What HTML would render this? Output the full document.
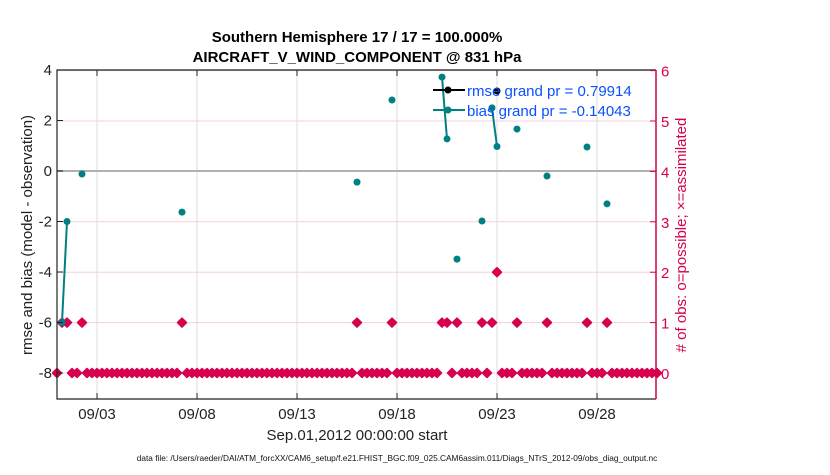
<!DOCTYPE html>
<html><head><meta charset="utf-8"><style>
body{margin:0;background:#fff;width:830px;height:470px;overflow:hidden}
svg{font-family:"Liberation Sans",sans-serif}
</style></head><body>
<svg id="chart" width="830" height="470" viewBox="0 0 830 470" xmlns="http://www.w3.org/2000/svg">
<g id="grid"></g>
<g id="marks"></g>
<g id="axes"></g>
<text x="357" y="42" text-anchor="middle" font-size="15" font-weight="bold">Southern Hemisphere 17 / 17 = 100.000%</text>
<text x="357" y="62" text-anchor="middle" font-size="15" font-weight="bold">AIRCRAFT_V_WIND_COMPONENT @ 831 hPa</text>
<text x="357" y="440" text-anchor="middle" font-size="15" fill="#222">Sep.01,2012 00:00:00 start</text>
<text x="397" y="461" text-anchor="middle" font-size="8.3" fill="#111">data file: /Users/raeder/DAI/ATM_forcXX/CAM6_setup/f.e21.FHIST_BGC.f09_025.CAM6assim.011/Diags_NTrS_2012-09/obs_diag_output.nc</text>
<text transform="translate(32,235) rotate(-90)" text-anchor="middle" font-size="15" fill="#222">rmse and bias (model - observation)</text>
<text transform="translate(686,235) rotate(-90)" text-anchor="middle" font-size="15" fill="#d6004f"># of obs: o=possible; ×=assimilated</text>
<g>
<line x1="433" y1="90" x2="465" y2="90" stroke="#000" stroke-width="2"/><circle cx="448" cy="90" r="3.5" fill="#000"/>
<line x1="433" y1="110" x2="465" y2="110" stroke="#008080" stroke-width="2"/><circle cx="448" cy="110" r="3.5" fill="#008080"/>
<text x="467" y="96" font-size="15" fill="#0b50ff">rmse grand pr = 0.79914</text>
<text x="467" y="116" font-size="15" fill="#0b50ff">bias grand pr = -0.14043</text>
</g>
</svg>
<script>
// data
const nBins = 121;
const countOne = [1,2,5,25,60,67,77,78,80,85,87,92,98,106,110];
const countTwo = [88];
const biasBins = [1,2,5,25,60,67,77,78,80,85,87,88,92,98,106,110];
const biasVals = [-6.0,-2.0,-0.12,-1.63,-0.44,2.81,3.72,1.27,-3.49,-1.98,2.5,0.97,1.66,-0.2,0.95,-1.3];
const rmseBins = [88];
const rmseVals = [3.17];
const xTickDays = [2,7,12,17,22,27];
const xTickLabels = ["09/03","09/08","09/13","09/18","09/23","09/28"];
const yLeftTicks = [-8,-6,-4,-2,0,2,4];
const yRightTicks = [0,1,2,3,4,5,6];

const L=57,R=656,T=70,B=399;
const xDay=d=>L+d*20;
const xBin=k=>xDay(k*0.25);
const yL=v=>171-v*25.25;
const yR=c=>373-c*50.4;
const NS="http://www.w3.org/2000/svg";
function mk(parent,tag,attrs){const e=document.createElementNS(NS,tag);for(const a in attrs)e.setAttribute(a,attrs[a]);document.getElementById(parent).appendChild(e);return e;}

// grid
xTickDays.forEach((d,i)=>{
  const g=mk('grid','line',{x1:xDay(d),x2:xDay(d),y1:T,y2:B,stroke:'#dcdcdc','stroke-width':1});
  
  
});
yRightTicks.forEach(c=>{
  if(c===4)return;
  const g=mk('grid','line',{x1:L,x2:R,y1:yR(c),y2:yR(c),stroke:'#f3d0dc','stroke-width':1});
  
  
});
const zl=mk('grid','line',{x1:L,x2:R,y1:yL(0),y2:yL(0),stroke:'#b0b0b0','stroke-width':2});



// counts
const counts=new Array(nBins).fill(0);
countOne.forEach(k=>counts[k]=1);
countTwo.forEach(k=>counts[k]=2);
for(let k=0;k<nBins-1;k++){
  if(counts[k]===counts[k+1]){
    const s=mk('marks','line',{x1:xBin(k),y1:yR(counts[k]),x2:xBin(k+1),y2:yR(counts[k+1]),stroke:'#d6004f','stroke-width':1.5});
    
    
  }
}
for(let k=0;k<nBins;k++){
  const x=xBin(k),y=yR(counts[k]);
  const m=mk('marks','path',{d:`M${x},${y-4.2}L${x+4.2},${y}L${x},${y+4.2}L${x-4.2},${y}Z`,fill:'#d6004f',stroke:'#d6004f','stroke-width':2,'stroke-linejoin':'round'});
  
  
}

// bias series
for(let i=0;i<biasBins.length-1;i++){
  if(biasBins[i+1]-biasBins[i]===1){
    const ln=mk('marks','line',{x1:xBin(biasBins[i]),y1:yL(biasVals[i]),x2:xBin(biasBins[i+1]),y2:yL(biasVals[i+1]),stroke:'#008080','stroke-width':2});
    
    
  }
}
biasBins.forEach((k,i)=>{
  const c=mk('marks','circle',{cx:xBin(k),cy:yL(biasVals[i]),r:3.5,fill:'#008080'});
  
  
});
rmseBins.forEach((k,i)=>{
  const c=mk('marks','circle',{cx:xBin(k),cy:yL(rmseVals[i]),r:3.5,fill:'#000'});
  
  
});

// axes
const la=mk('axes','path',{d:`M${R},${T}L${L},${T}L${L},${B}L${R},${B}`,fill:'none',stroke:'#222','stroke-width':1.2});


const ra=mk('axes','line',{x1:R,x2:R,y1:T,y2:B,stroke:'#d6004f','stroke-width':1.5});


xTickDays.forEach((d,i)=>{
  mk('axes','line',{x1:xDay(d),x2:xDay(d),y1:B,y2:B-6,stroke:'#222'});
  mk('axes','line',{x1:xDay(d),x2:xDay(d),y1:T,y2:T+6,stroke:'#222'});
  const t=mk('axes','text',{x:xDay(d),y:B+20,'text-anchor':'middle','font-size':15,fill:'#222'});
  t.textContent=xTickLabels[i];
  
  
});
yLeftTicks.forEach(v=>{
  mk('axes','line',{x1:L,x2:L+6,y1:yL(v),y2:yL(v),stroke:'#222'});
  const t=mk('axes','text',{x:L-5,y:yL(v)+5,'text-anchor':'end','font-size':15,fill:'#222'});
  t.textContent=String(v);
  
  
});
yRightTicks.forEach(c=>{
  mk('axes','line',{x1:R-6,x2:R,y1:yR(c),y2:yR(c),stroke:'#d6004f'});
  const t=mk('axes','text',{x:R+5,y:yR(c)+6,'font-size':15,fill:'#d6004f'});
  t.textContent=String(c);
  
  
});
</script>
</body></html>
